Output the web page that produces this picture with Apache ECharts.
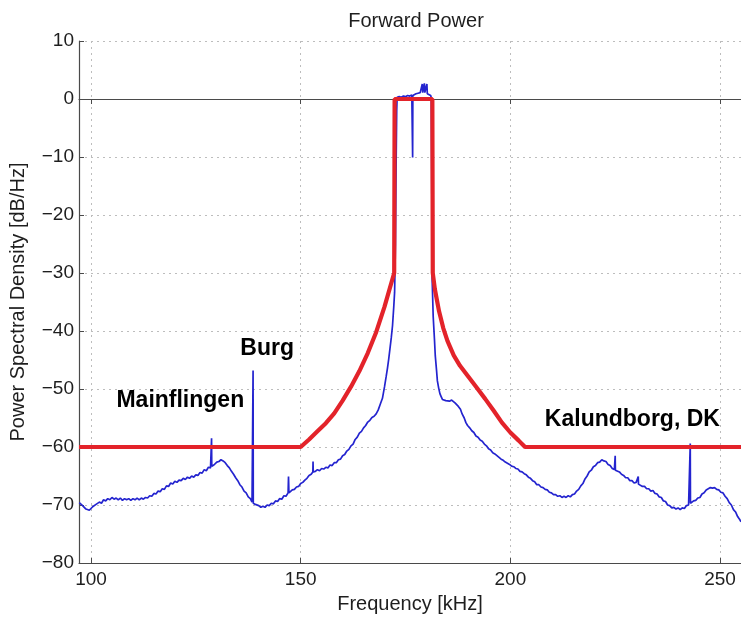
<!DOCTYPE html>
<html>
<head>
<meta charset="utf-8">
<script src="https://cdn.jsdelivr.net/npm/echarts@6/dist/echarts.min.js"></script>
<style>
  html, body { margin: 0; padding: 0; background: #fff; }
  #chart { width: 741px; height: 619px; }
</style>
</head>
<body>
<div id="chart"></div>
<script>
// Measured forward-power spectrum, [frequency kHz, PSD dB/Hz]
const spectrum = [
  [97.2,-69.6],[97.6,-69.9],[98.0,-70.1],[98.4,-70.3],[98.8,-70.7],[99.2,-70.5],[99.6,-70.9],[100.0,-70.6],
  [100.4,-70.3],[100.8,-70.4],[101.2,-69.9],[101.6,-70.0],[102.0,-69.5],[102.5,-69.7],[103.0,-69.1],[103.5,-69.3],
  [104.0,-68.9],[104.5,-69.1],[105.0,-68.7],[105.5,-69.0],[106.0,-68.8],[106.5,-69.1],[107.0,-68.8],[107.5,-69.2],
  [108.0,-68.9],[108.5,-69.1],[109.0,-68.9],[109.5,-69.2],[110.0,-68.9],[110.5,-69.1],[111.0,-68.8],[111.5,-69.1],
  [112.0,-68.8],[112.5,-69.0],[113.0,-68.7],[113.5,-68.8],[114.0,-68.4],[114.5,-68.5],[115.0,-68.0],[115.5,-68.1],
  [116.0,-67.6],[116.5,-67.7],[117.0,-67.2],[117.5,-67.3],[118.0,-66.7],[118.5,-66.8],[119.0,-66.2],[119.5,-66.4],
  [120.0,-65.9],[120.5,-66.1],[121.0,-65.7],[121.5,-65.8],[122.0,-65.4],[122.5,-65.6],[123.0,-65.2],[123.5,-65.4],
  [124.0,-65.0],[124.5,-65.2],[125.0,-64.8],[125.5,-64.9],[126.0,-64.4],[126.5,-64.5],[127.0,-63.9],[127.5,-64.1],
  [128.0,-63.5],[128.5,-63.6],[128.7,-63.4],[128.75,-58.5],[128.8,-63.3],[129.3,-63.1],[129.7,-62.8],[130.0,-62.6],
  [130.5,-62.5],[131.0,-62.2],[131.5,-62.4],[132.0,-62.7],[132.5,-63.2],[133.0,-63.6],[133.5,-64.2],[134.0,-64.7],
  [134.5,-65.3],[135.0,-65.8],[135.5,-66.5],[136.0,-66.9],[136.5,-67.6],[137.0,-67.9],[137.5,-68.6],[138.0,-68.9],
  [138.4,-69.5],[138.6,-69.6],[138.65,-46.8],[138.7,-69.7],[139.2,-69.9],[139.6,-70.2],[140.0,-70.1],[140.5,-70.4],
  [141.0,-70.2],[141.5,-70.4],[142.0,-70.0],[142.5,-70.1],[143.0,-69.7],[143.5,-69.8],[144.0,-69.3],[144.5,-69.4],
  [145.0,-68.9],[145.5,-69.0],[146.0,-68.4],[146.5,-68.5],[147.0,-67.9],[147.1,-65.1],[147.2,-67.9],[147.6,-67.6],
  [148.0,-67.4],[148.5,-67.3],[149.0,-66.9],[149.5,-66.8],[150.0,-66.3],[150.5,-66.1],[151.0,-65.7],[151.5,-65.4],
  [152.0,-64.9],[152.5,-64.7],[152.9,-64.3],[152.95,-62.5],[153.0,-64.3],[153.5,-64.2],[154.0,-63.9],[154.5,-64.1],
  [155.0,-63.7],[155.5,-63.8],[156.0,-63.5],[156.5,-63.6],[157.0,-63.1],[157.5,-63.2],[158.0,-62.7],[158.5,-62.7],
  [159.0,-62.2],[159.5,-62.1],[160.0,-61.5],[160.5,-61.3],[161.0,-60.7],[161.5,-60.4],[162.0,-59.8],[162.5,-59.5],
  [163.0,-58.7],[163.5,-58.3],[164.0,-57.6],[164.5,-57.3],[165.0,-56.7],[165.5,-56.3],[166.0,-55.7],[166.5,-55.4],
  [167.0,-54.9],[167.5,-54.7],[168.0,-54.3],[168.5,-53.6],[169.0,-52.6],[169.5,-51.6],[170.0,-49.6],[170.4,-47.8],
  [170.7,-46.4],[171.0,-44.8],[171.3,-43.0],[171.6,-41.2],[171.9,-39.1],[172.2,-35.8],[172.4,-33.3],[172.6,-25.0],
  [172.75,-12.0],[172.9,-2.0],[173.0,0.3],[173.5,0.4],[174.0,0.3],[174.5,0.5],[175.0,0.4],[175.5,0.6],
  [176.0,0.5],[176.5,0.7],[176.65,0.6],[176.7,-10.1],[176.75,0.6],[177.0,0.7],[177.5,0.9],[178.0,1.0],
  [178.5,1.1],[178.9,1.1],[179.0,2.6],[179.1,1.1],[179.4,1.2],[179.5,2.7],[179.6,1.1],[180.0,1.0],
  [180.1,2.6],[180.2,0.9],[180.6,0.8],[181.0,0.6],[181.15,0.2],[181.25,-12.0],[181.35,-31.0],[181.6,-37.5],
  [181.9,-41.4],[182.1,-44.3],[182.4,-46.8],[182.6,-48.6],[182.9,-49.8],[183.2,-50.8],[183.5,-51.3],[183.8,-51.8],
  [184.2,-51.7],[184.6,-52.0],[185.0,-51.8],[185.5,-52.1],[186.0,-51.9],[186.4,-52.2],[186.8,-52.4],[187.2,-52.7],
  [187.6,-53.0],[188.1,-53.5],[188.5,-54.3],[189.0,-55.0],[189.4,-55.8],[189.8,-56.3],[190.3,-56.7],[190.8,-57.2],
  [191.3,-57.5],[191.8,-58.1],[192.3,-58.3],[192.8,-58.8],[193.3,-59.0],[193.8,-59.5],[194.3,-59.8],[194.8,-60.3],
  [195.3,-60.5],[195.8,-61.0],[196.3,-61.2],[196.8,-61.5],[197.3,-61.8],[197.8,-62.1],[198.3,-62.3],[198.8,-62.6],
  [199.3,-62.8],[199.8,-63.0],[200.3,-63.3],[200.8,-63.4],[201.3,-63.7],[201.8,-63.8],[202.3,-64.2],[202.8,-64.3],
  [203.3,-64.6],[203.8,-64.8],[204.3,-65.2],[204.8,-65.4],[205.3,-65.8],[205.8,-66.0],[206.3,-66.5],[206.8,-66.5],
  [207.3,-66.9],[207.8,-67.0],[208.3,-67.3],[208.8,-67.4],[209.3,-67.8],[209.8,-67.9],[210.3,-68.2],[210.8,-68.2],
  [211.3,-68.5],[211.8,-68.4],[212.3,-68.7],[212.8,-68.5],[213.3,-68.7],[213.8,-68.4],[214.3,-68.6],[214.8,-68.2],
  [215.3,-68.1],[215.8,-67.6],[216.3,-67.3],[216.8,-66.7],[217.3,-66.3],[217.8,-65.5],[218.3,-65.0],[218.8,-64.3],
  [219.3,-64.0],[219.8,-63.4],[220.3,-63.2],[220.8,-62.7],[221.3,-62.6],[221.8,-62.2],[222.3,-62.4],[222.8,-62.5],
  [223.3,-63.0],[223.8,-63.2],[224.3,-63.7],[224.8,-63.9],[224.95,-63.9],[225.0,-61.5],[225.05,-64.0],[225.5,-64.3],
  [226.0,-64.3],[226.5,-64.7],[227.0,-64.9],[227.5,-65.3],[228.0,-65.3],[228.5,-65.8],[229.0,-65.8],[229.5,-66.2],
  [230.0,-66.1],[230.45,-66.3],[230.5,-65.1],[230.55,-66.4],[231.0,-66.4],[231.5,-66.8],[232.0,-66.8],[232.5,-67.2],
  [233.0,-67.2],[233.5,-67.6],[234.0,-67.5],[234.5,-68.0],[235.0,-68.1],[235.5,-68.6],[236.0,-68.7],[236.5,-69.3],
  [237.0,-69.4],[237.5,-70.0],[238.0,-70.1],[238.5,-70.5],[239.0,-70.4],[239.5,-70.7],[240.0,-70.5],[240.5,-70.8],
  [241.0,-70.5],[241.5,-70.6],[242.0,-70.1],[242.5,-70.0],[242.85,-69.7],[242.9,-59.4],[242.95,-69.7],[243.3,-69.6],
  [243.7,-69.3],[244.2,-69.2],[244.7,-68.8],[245.2,-68.7],[245.7,-68.1],[246.2,-67.9],[246.7,-67.4],[247.2,-67.2],
  [247.7,-67.0],[248.2,-67.1],[248.7,-67.0],[249.2,-67.3],[249.7,-67.4],[250.2,-67.8],[250.7,-67.9],[251.2,-68.5],
  [251.7,-68.9],[252.2,-69.6],[252.7,-70.0],[253.2,-70.8],[253.7,-71.2],[254.2,-72.0],[254.6,-72.4],[255.0,-72.9]
];

// Spectrum mask limit, [frequency kHz, dB/Hz]
const mask = [
  [97.14,-60],[150,-60],[152,-58.7],[154,-57.3],[156,-55.9],[158,-54.2],[160,-52.0],[162,-49.6],
  [164,-46.9],[166,-43.8],[168,-40.2],[170,-35.8],[172.3,-30],[172.4,0],[181.4,0],[181.5,-30],
  [182,-32.8],[183,-36.6],[184,-39.5],[185,-41.7],[186.5,-44.2],[188,-46.0],[190,-47.9],[192,-49.8],
  [194,-51.7],[196,-53.7],[198,-55.8],[200,-57.5],[202,-58.9],[203.5,-60],[255,-60]
];

// Interfering transmitters, placed in data coordinates
const stations = [
  { name: 'Burg', at: [142.0, -43.1] },
  { name: 'Mainflingen', at: [121.3, -52.0] },
  { name: 'Kalundborg, DK', at: [229.1, -55.3] }
];

const xMin = 97.14, xMax = 255.0;
const yMin = -80, yMax = 10, yStep = 10;

const font = 'Liberation Sans, Arial, Helvetica, sans-serif';
const frameColor = '#4a4a4a';
const textColor = '#1e1e1e';
const gridLine = { show: true, lineStyle: { color: '#bdbdbd', type: [2, 4], width: 1 } };

const chart = echarts.init(document.getElementById('chart'), null, { renderer: 'canvas' });

chart.setOption({
  animation: false,
  backgroundColor: '#ffffff',
  title: {
    text: 'Forward Power',
    left: 411, top: 6, textAlign: 'center',
    textStyle: { fontFamily: font, fontSize: 20, fontWeight: 'normal', color: textColor }
  },
  grid: { left: 78, right: 0, top: 41, bottom: 54, containLabel: false },
  xAxis: [{
    type: 'value', min: xMin, max: xMax, splitNumber: 3,
    name: 'Frequency [kHz]', nameLocation: 'middle', nameGap: 31,
    nameTextStyle: { fontFamily: font, fontSize: 20, color: textColor },
    axisLine: { show: true, onZero: false, lineStyle: { color: frameColor, width: 1.2 } },
    axisTick: { show: true, inside: true, length: 5, lineStyle: { color: frameColor } },
    axisLabel: { fontFamily: font, fontSize: 19, color: textColor, margin: 7, showMinLabel: false, showMaxLabel: false },
    splitLine: gridLine
  }, {
    type: 'value', position: 'top', min: xMin, max: xMax, splitNumber: 3,
    axisLine: { show: true, lineStyle: { color: frameColor, width: 1.2 } },
    axisTick: { show: true, inside: true, length: 5, lineStyle: { color: frameColor } },
    axisLabel: { show: false },
    splitLine: { show: false }
  }],
  yAxis: {
    type: 'value', min: yMin, max: yMax, interval: yStep,
    name: 'Power Spectral Density [dB/Hz]', nameLocation: 'middle', nameGap: 51,
    nameTextStyle: { fontFamily: font, fontSize: 20, color: textColor },
    axisLine: { show: true, lineStyle: { color: frameColor, width: 1.2 } },
    axisTick: { show: true, inside: true, length: 5, lineStyle: { color: frameColor } },
    axisLabel: {
      fontFamily: font, fontSize: 19, color: textColor, margin: 5,
      formatter: v => (v < 0 ? '\u2212' + Math.abs(v) : String(v))
    },
    splitLine: gridLine
  },
  series: [{
    name: 'PSD', type: 'line', data: spectrum, showSymbol: false, symbol: 'none',
    lineStyle: { color: '#2424cf', width: 1.7 }, z: 3, clip: true
  }, {
    name: 'Mask', type: 'line', data: mask, showSymbol: false, symbol: 'none',
    lineStyle: { color: '#e3232a', width: 4.2 }, z: 4, clip: true
  }, {
    name: 'Stations', type: 'scatter', symbolSize: 0,
    data: stations.map(s => ({ value: s.at, name: s.name })),
    label: {
      show: true, position: 'inside', formatter: p => p.name,
      fontFamily: font, fontSize: 23, fontWeight: 'bold', color: '#000000',
      textBorderWidth: 0, opacity: 1
    },
    emphasis: { disabled: true },
    z: 5, silent: true
  }]
});
</script>
</body>
</html>
